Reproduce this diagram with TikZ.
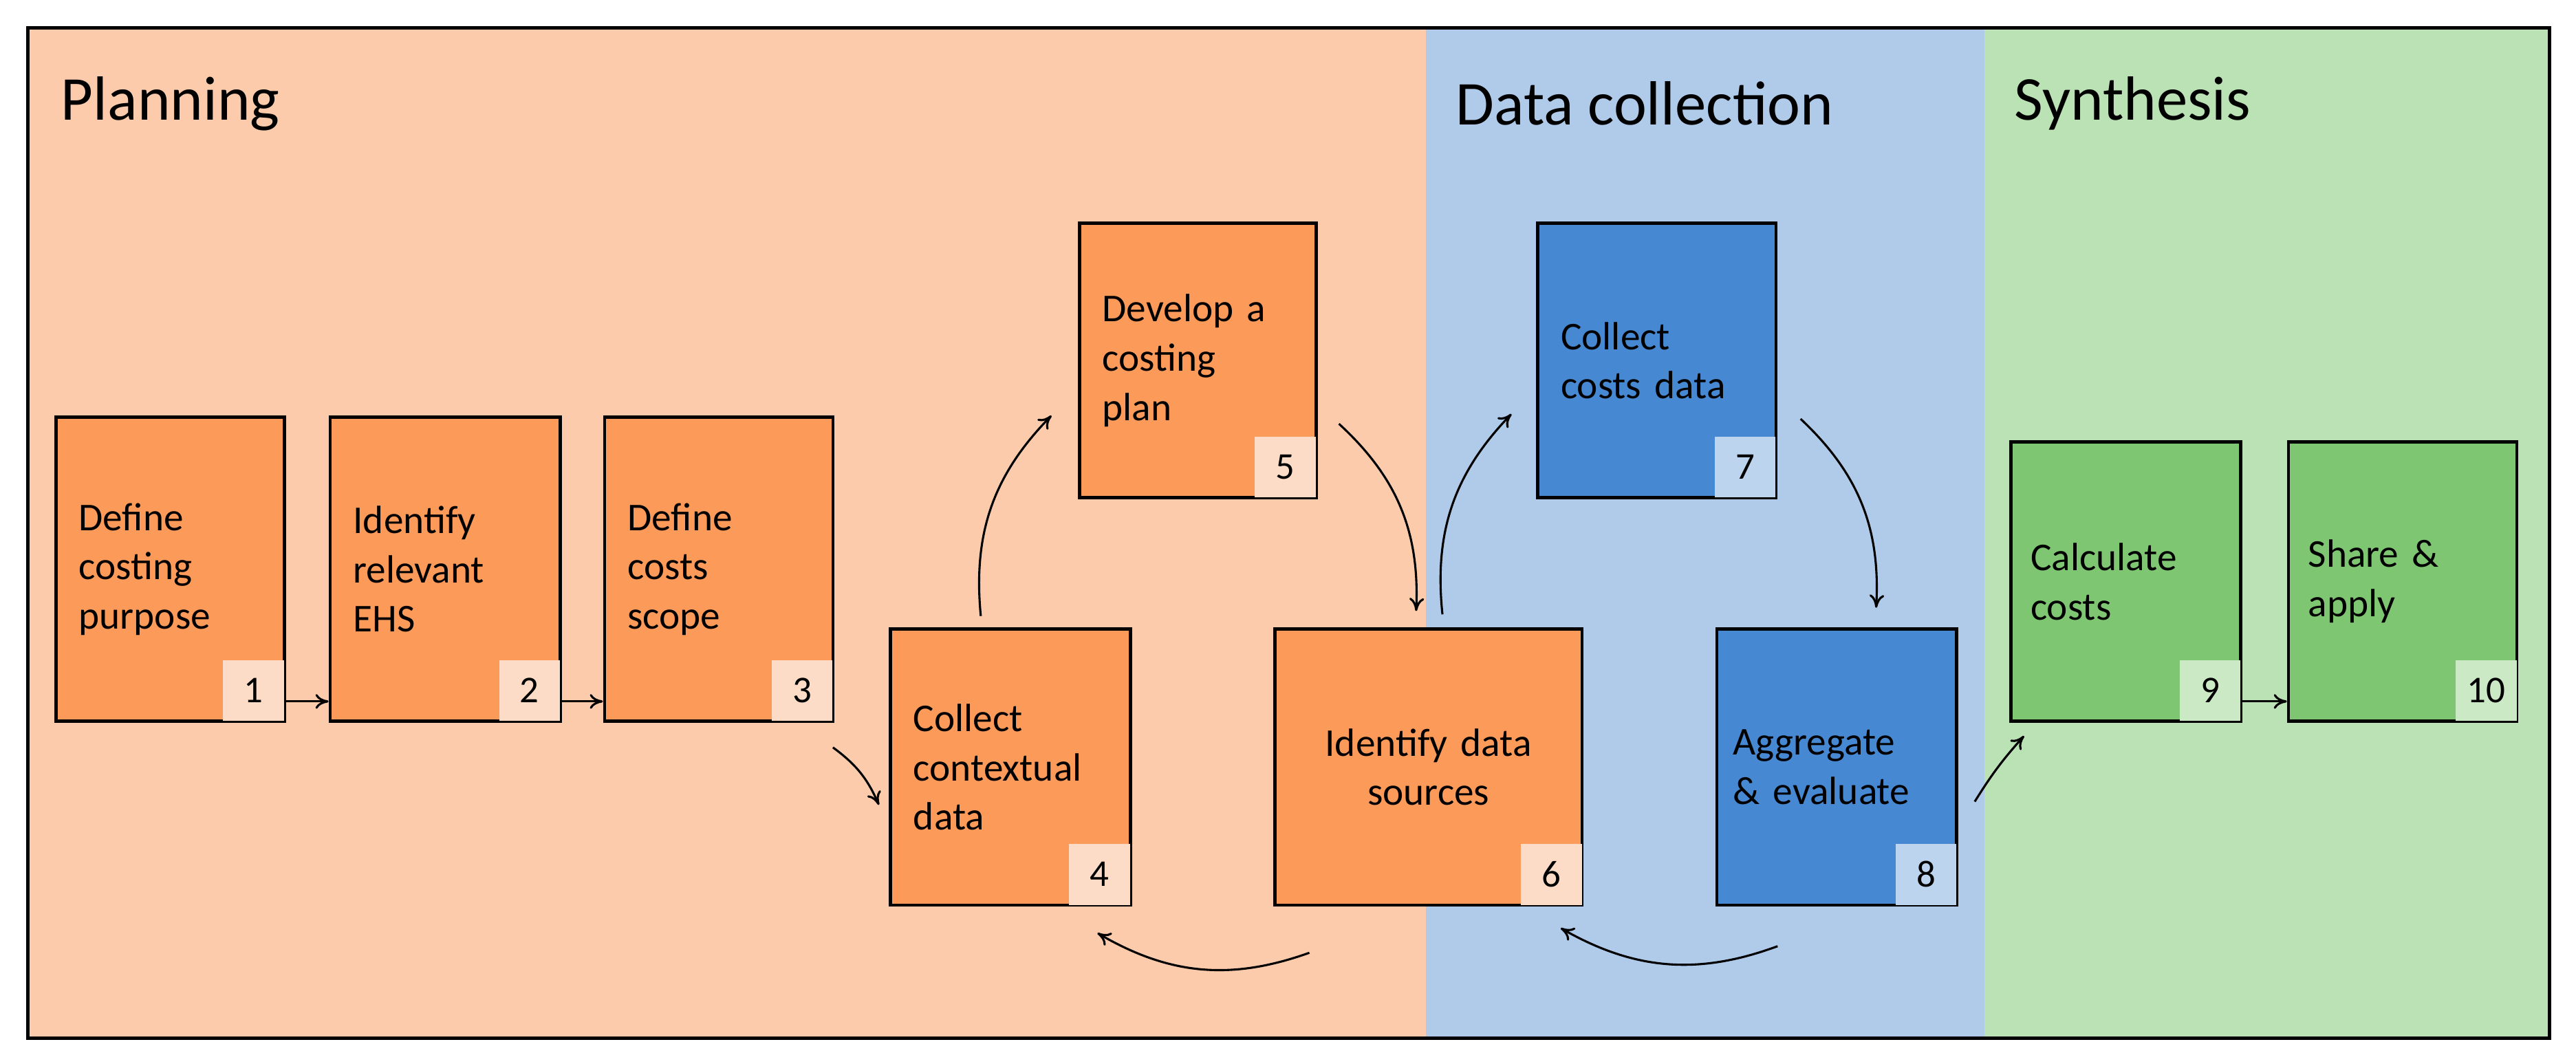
\documentclass[tikz,border=0pt]{standalone}
\usepackage{fontspec}
\setmainfont{Carlito}
\usetikzlibrary{arrows.meta}
\definecolor{peach}{HTML}{FBCBAC}
\definecolor{lblue}{HTML}{B0CAEA}
\definecolor{lgreen}{HTML}{BBE2B5}
\definecolor{obox}{HTML}{FB9A59}
\definecolor{bbox}{HTML}{4788D2}
\definecolor{gbox}{HTML}{7FC672}
\definecolor{onum}{HTML}{FCDCC6}
\definecolor{bnum}{HTML}{BCD4EE}
\definecolor{gnum}{HTML}{CBE9C4}
\begin{document}
\begin{tikzpicture}[x=1pt,y=-1pt,
  box/.style={draw=black,line width=2pt,anchor=north west,inner xsep=14pt,
    font=\fontsize{24}{30}\selectfont,align=left},
  num/.style={anchor=south east,minimum width=37pt,minimum height=37pt,inner sep=0pt,
    font=\fontsize{23}{28}\selectfont},
  title/.style={anchor=west,font=\fontsize{38}{42}\selectfont,inner sep=0pt},
  arr/.style={-{To[length=8pt,width=9pt]},line width=1.3pt}]
\useasboundingbox[fill=white] (0,0) rectangle (1568,647.3);
\fill[peach] (17,17) rectangle (868,632);
\fill[lblue] (868,17) rectangle (1208,632);
\fill[lgreen] (1208,17) rectangle (1552,632);
\draw[line width=2pt] (17,17) rectangle (1552,632);
\node[title] (t1) at (37,63) {Planning};
\node[title] (t2) at (886,63) {Data collection};
\node[title] (t3) at (1226,63) {Synthesis};
\node[box,fill=obox,minimum width=139pt,minimum height=185pt,text width=111pt] (b1) at (33,253) {Define\\costing\\purpose};
\node[box,fill=obox,minimum width=140pt,minimum height=185pt,text width=112pt] (b2) at (200,253) {Identify\\relevant\\EHS};
\node[box,fill=obox,minimum width=139pt,minimum height=185pt,text width=111pt] (b3) at (367,253) {Define\\costs\\scope};
\node[box,fill=obox,minimum width=146pt,minimum height=168pt,text width=118pt] (b4) at (541,382) {Collect\\contextual\\data};
\node[box,fill=obox,minimum width=144pt,minimum height=167pt,text width=116pt] (b5) at (656,135) {Develop a\\costing\\plan};
\node[box,fill=obox,minimum width=187pt,minimum height=168pt,text width=159pt,align=center] (b6) at (775,382) {Identify data\\sources};
\node[box,fill=bbox,minimum width=145pt,minimum height=167pt,text width=117pt,inner xsep=12pt] (b7) at (935,135) {Collect\\costs data};
\node[box,fill=bbox,minimum width=146pt,minimum height=168pt,text width=126pt,inner xsep=8pt] (b8) at (1044,382) {Aggregate\\\& evaluate};
\node[box,fill=gbox,minimum width=140pt,minimum height=170pt,text width=116pt,inner xsep=10pt] (b9) at (1223,268) {Calculate\\costs};
\node[box,fill=gbox,minimum width=139pt,minimum height=170pt,text width=115pt,inner xsep=12pt] (b10) at (1392,268) {Share \&\\apply};
\foreach \i/\c in {1/onum,2/onum,3/onum,4/onum,5/onum,6/onum,7/bnum,8/bnum,9/gnum,10/gnum}{
  \node[num,fill=\c] (n\i) at ([xshift=-1pt,yshift=1pt]b\i.south east) {\i};}
\draw[arr] ([yshift=13pt]b1.south east) -- ([yshift=13pt]b2.south west);
\draw[arr] ([yshift=13pt]b2.south east) -- ([yshift=13pt]b3.south west);
\draw[arr] ([yshift=13pt]b9.south east) -- ([yshift=13pt]b10.south west);
\coordinate (c3a) at (507,455); \coordinate (c4a) at (535,490);
\draw[arr] (c3a) to[bend left=15] (c4a);
\coordinate (c4b) at (597,375); \coordinate (c5a) at (640,253);
\draw[arr] (c4b) to[bend left=25] (c5a);
\coordinate (c5b) at (815,258); \coordinate (c6a) at (862,372);
\draw[arr] (c5b) to[bend left=25] (c6a);
\coordinate (c6b) at (878,374); \coordinate (c7a) at (920,252);
\draw[arr] (c6b) to[bend left=25] (c7a);
\coordinate (c7b) at (1096,255); \coordinate (c8a) at (1142,370);
\draw[arr] (c7b) to[bend left=25] (c8a);
\coordinate (c8b) at (1082,576); \coordinate (c6c) at (950,565);
\draw[arr] (c8b) to[bend left=25] (c6c);
\coordinate (c6d) at (797,580); \coordinate (c4c) at (668,568);
\draw[arr] (c6d) to[bend left=25] (c4c);
\coordinate (c8c) at (1202,488); \coordinate (c9a) at (1232,448);
\draw[arr] (c8c) to[bend left=5] (c9a);
\end{tikzpicture}
\end{document}
